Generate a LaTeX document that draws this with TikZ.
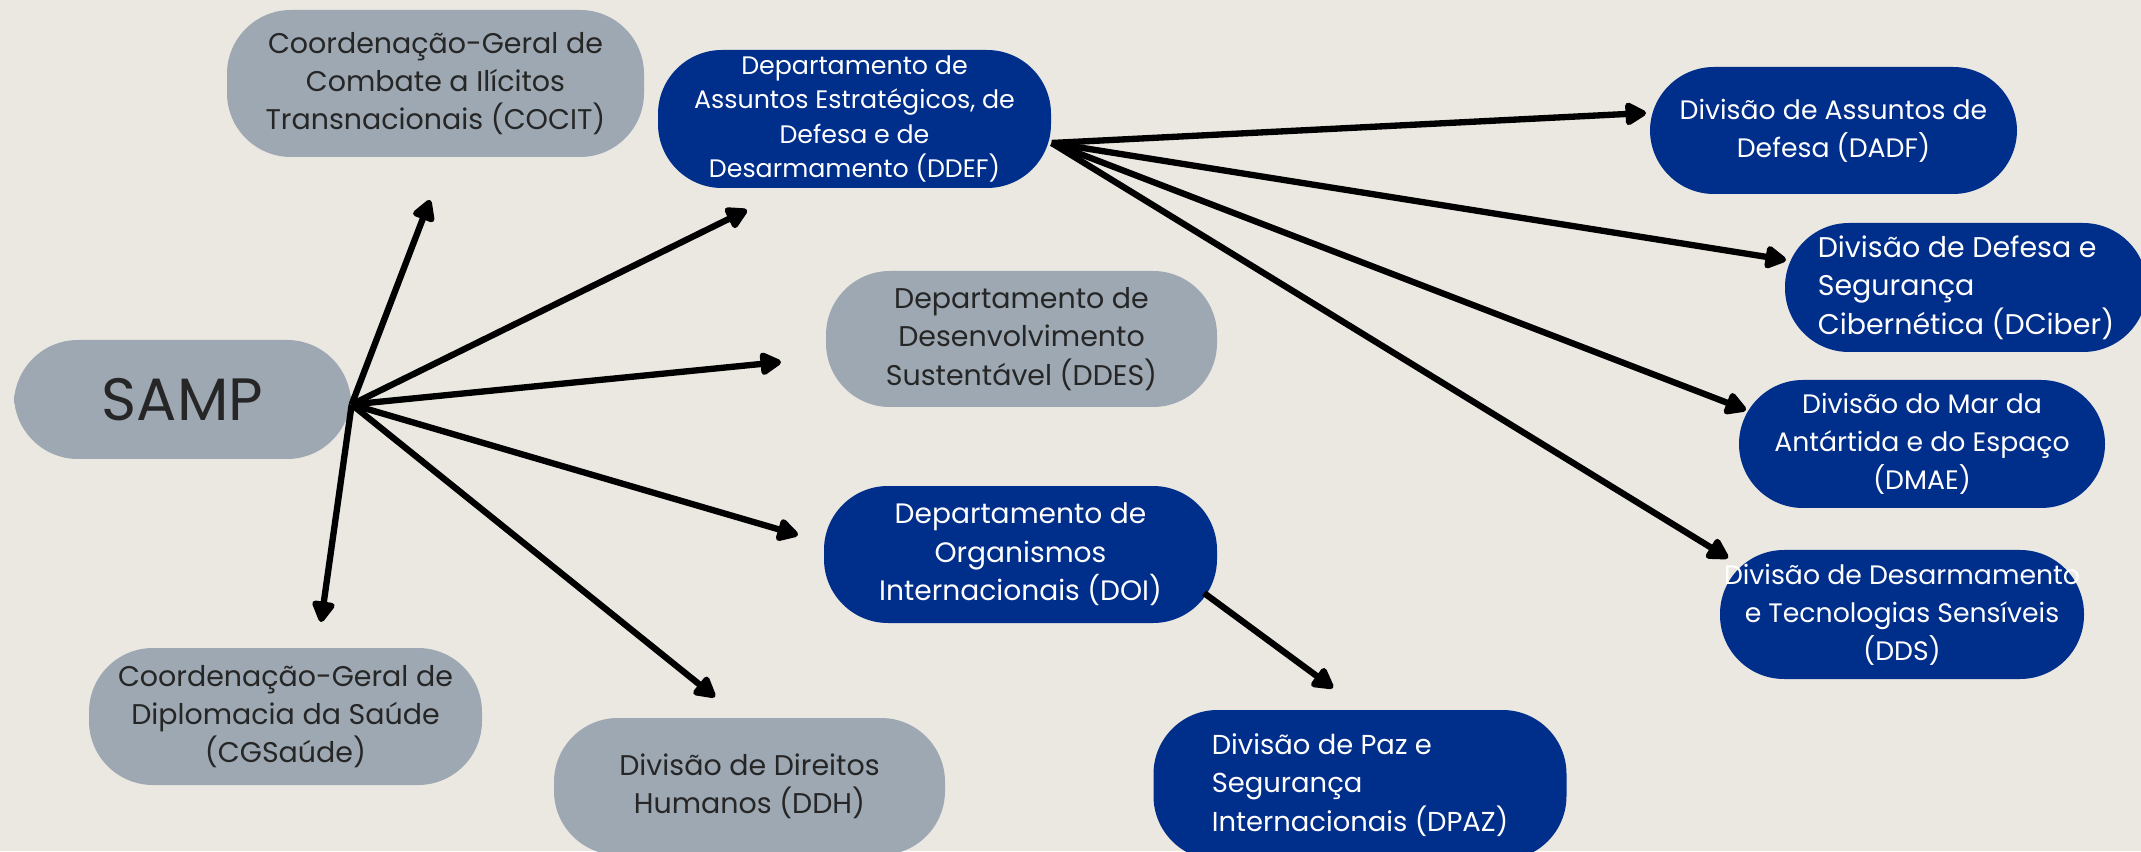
\documentclass[tikz,border=0pt]{standalone}
\usepackage{fontspec}
\setmainfont{Poppins}
\usetikzlibrary{arrows.meta,calc}
\definecolor{paper}{RGB}{235,231,225}
\definecolor{slate}{RGB}{157,168,179}
\definecolor{navy}{RGB}{0,46,139}
\definecolor{ink}{RGB}{38,38,38}

\begin{document}
\begin{tikzpicture}[join=round,
    unit/.style={rounded corners=0.64cm,inner sep=0pt,align=center,font=\fontsize{8.1}{10.9}\selectfont},
    greyunit/.style={unit,fill=slate,text=ink},
    navyunit/.style={unit,fill=navy,text=white},
    small/.style={font=\fontsize{7.6}{10.8}\selectfont},
    link/.style={line width=1.8pt,-{Triangle[length=0.24cm,width=0.25cm,round]}}]
    \useasboundingbox (0,0) rectangle (21.41,8.51);
    \fill[paper] (0,0) rectangle (21.41,8.51);
    \node[greyunit,minimum width=3.37cm,minimum height=1.19cm,font=\fontsize{17}{20}\selectfont] (SAMP) at (1.825,4.515) {SAMP};
    \node[greyunit,minimum width=4.17cm,minimum height=1.47cm] (COCIT) at (4.355,7.675) {Coordenação-Geral de\\Combate a Ilícitos\\Transnacionais (COCIT)};
    \node[navyunit,minimum width=3.93cm,minimum height=1.38cm,font=\fontsize{7.2}{9.8}\selectfont] (DDEF) at (8.545,7.32) {Departamento de\\Assuntos Estratégicos, de\\Defesa e de\\Desarmamento (DDEF)};
    \node[greyunit,minimum width=3.91cm,minimum height=1.36cm] (DDES) at (10.215,5.12) {Departamento de\\Desenvolvimento\\Sustentável (DDES)};
    \node[navyunit,minimum width=3.93cm,minimum height=1.37cm,font=\fontsize{8.0}{10.9}\selectfont] (DOI) at (10.205,2.965) {Departamento de\\Organismos\\Internacionais (DOI)};
    \node[greyunit,minimum width=3.93cm,minimum height=1.37cm] (CGS) at (2.855,1.345) {Coordenação-Geral de\\Diplomacia da Saúde\\(CGSaúde)};
    \node[greyunit,minimum width=3.91cm,minimum height=1.37cm] (DDH) at (7.495,0.645) {Divisão de Direitos\\Humanos (DDH)};
    \node[navyunit,minimum width=4.13cm,minimum height=1.5cm,align=left,font=\fontsize{7.8}{10.9}\selectfont] (DPAZ) at (13.60,0.66) {Divisão de Paz e\\Segurança\\Internacionais (DPAZ)};
    \node[navyunit,small,minimum width=3.67cm,minimum height=1.27cm] (DADF) at (18.335,7.205) {Divisão de Assuntos de\\Defesa (DADF)};
    \node[navyunit,minimum width=3.62cm,minimum height=1.29cm,align=left] (DCiber) at (19.66,5.635) {Divisão de Defesa e\\Segurança\\Cibernética (DCiber)};
    \node[navyunit,small,minimum width=3.66cm,minimum height=1.28cm] (DMAE) at (19.22,4.07) {Divisão do Mar da\\Antártida e do Espaço\\(DMAE)};
    \node[navyunit,small,minimum width=3.64cm,minimum height=1.29cm] (DDS) at (19.02,2.365) {Divisão de Desarmamento\\e Tecnologias Sensíveis\\(DDS)};
    \coordinate (sampout) at ($(SAMP.east)+(0,-0.05)$);
    \coordinate (ddefout) at ($(DDEF.east)+(0,-0.24)$);
    \coordinate (doiout) at (12.04,2.58);
    \coordinate (toCOCIT) at (4.30,6.51);
    \coordinate (toDDEF) at (7.47,6.41);
    \coordinate (toDDES) at (7.81,4.89);
    \coordinate (toDOI) at (7.98,3.16);
    \coordinate (toDDH) at (7.15,1.54);
    \coordinate (toCGS) at (3.21,2.29);
    \coordinate (toDADF) at (16.46,7.38);
    \coordinate (toDCiber) at (17.86,5.91);
    \coordinate (toDMAE) at (17.46,4.41);
    \coordinate (toDDS) at (17.28,2.93);
    \coordinate (toDPAZ) at (13.33,1.63);
    \draw[link] (sampout) -- (toCOCIT);
    \draw[link] (sampout) -- (toDDEF);
    \draw[link] (sampout) -- (toDDES);
    \draw[link] (sampout) -- (toDOI);
    \draw[link] (sampout) -- (toDDH);
    \draw[link] (sampout) -- (toCGS);
    \draw[link] (ddefout) -- (toDADF);
    \draw[link] (ddefout) -- (toDCiber);
    \draw[link] (ddefout) -- (toDMAE);
    \draw[link] (ddefout) -- (toDDS);
    \draw[link] (doiout) -- (toDPAZ);
\end{tikzpicture}
\end{document}
